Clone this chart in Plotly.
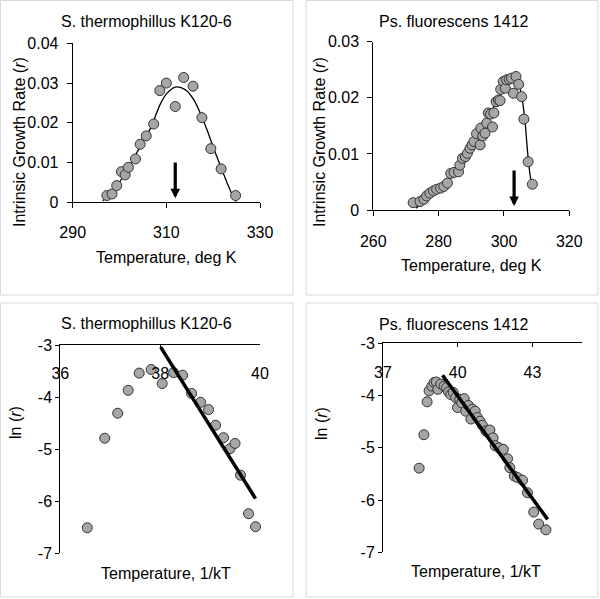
import plotly.graph_objects as go

# ---------------- data ----------------
# Panel A: S. thermophillus K120-6, r vs T
st_temp = [297.3, 298.4, 299.4, 300.4, 301.2, 301.9, 303.4, 304.4, 305.7, 307.3,
           308.6, 310.0, 311.9, 313.7, 315.7, 317.6, 319.5, 321.7, 324.8]
st_rate = [0.0017, 0.0021, 0.0042, 0.0077, 0.0069, 0.0088, 0.0109, 0.0146, 0.0167, 0.0197,
           0.0281, 0.0300, 0.0241, 0.0314, 0.0292, 0.0213, 0.0135, 0.0084, 0.0017]
st_fit_temp = [296.4, 298.4, 301.6, 304.4, 306.6, 308.7, 310.1, 311.9, 313.0, 314.4,
               315.9, 317.3, 318.7, 320.1, 321.6, 323.0, 324.1, 324.9]
st_fit_rate = [0.0004, 0.0023, 0.0081, 0.0140, 0.0186, 0.0247, 0.0274, 0.0290, 0.0289, 0.0280,
               0.0257, 0.0223, 0.0182, 0.0136, 0.0090, 0.0048, 0.0018, 0.0002]
st_arrow_temp = 311.9
st_arrow_from = 0.0104
st_arrow_to = 0.0010

# Panel B: Ps. fluorescens 1412, r vs T
pf_temp = [272.2, 274.3, 275.5, 276.3, 277.3, 278.4, 279.4, 280.6, 281.6, 282.7,
           283.7, 284.7, 286.1, 286.5, 287.3, 288.2, 288.8, 289.6, 290.2, 290.8,
           291.6, 292.7, 292.9, 293.5, 294.2, 294.7, 295.2, 295.9, 296.5, 296.9,
           297.6, 298.3, 298.8, 299.0, 299.8, 300.4, 300.8, 301.6, 302.3, 302.9,
           303.7, 304.5, 305.4, 306.1, 307.4, 308.7]
pf_rate = [0.0013, 0.0015, 0.0019, 0.0025, 0.0030, 0.0034, 0.0037, 0.0039, 0.0042, 0.0048,
           0.0065, 0.0067, 0.0068, 0.0080, 0.0092, 0.0095, 0.0101, 0.0110, 0.0116, 0.0122,
           0.0136, 0.0116, 0.0146, 0.0132, 0.0137, 0.0155, 0.0173, 0.0171, 0.0148, 0.0173,
           0.0193, 0.0196, 0.0195, 0.0215, 0.0229, 0.0217, 0.0232, 0.0233, 0.0235, 0.0208,
           0.0238, 0.0224, 0.0202, 0.0162, 0.0086, 0.0046]
pf_fit_temp = [273.1, 276.3, 280.4, 284.5, 288.6, 292.7, 296.7, 299.8, 301.8, 303.4,
               304.4, 305.2, 305.9, 306.5, 307.2, 308.0, 308.6]
pf_fit_rate = [0.0003, 0.0021, 0.0039, 0.0063, 0.0101, 0.0143, 0.0182, 0.0214, 0.0227, 0.0232,
               0.0226, 0.0210, 0.0185, 0.0155, 0.0105, 0.0062, 0.0042]
pf_arrow_temp = 303.1
pf_arrow_from = 0.0073
pf_arrow_to = 0.0007

# Panel C: S. thermophillus, ln(r) vs 1/kT
st_invkt = [36.54, 36.89, 37.15, 37.36, 37.58, 37.82, 38.04, 38.27, 38.45, 38.63,
            38.81, 38.97, 39.11, 39.27, 39.40, 39.50, 39.61, 39.77, 39.91]
st_lnr = [-6.51, -4.79, -4.31, -3.87, -3.54, -3.47, -3.74, -3.53, -3.58, -3.93,
          -4.10, -4.24, -4.54, -4.78, -4.99, -4.89, -5.50, -6.24, -6.49]
st_line_x = [38.01, 39.91]
st_line_y = [-3.04, -5.95]

# Panel D: Ps. fluorescens, ln(r) vs 1/kT
pf_invkt = [38.45, 38.64, 38.77, 38.85, 38.96, 39.05, 39.14, 39.20, 39.32, 39.45,
            39.55, 39.63, 39.72, 39.82, 39.92, 39.99, 40.08, 40.16, 40.26, 40.32,
            40.43, 40.53, 40.59, 40.70, 40.79, 40.89, 40.99, 41.13, 41.29, 41.42,
            41.50, 41.66, 41.83, 42.00, 42.09, 42.27, 42.40, 42.60, 42.80, 43.05,
            43.25, 43.54]
pf_lnr = [-5.39, -4.75, -4.12, -3.91, -3.82, -3.75, -3.74, -3.88, -3.78, -3.82,
          -3.85, -3.93, -3.98, -3.94, -4.04, -4.23, -4.07, -4.14, -4.06, -4.30,
          -4.19, -4.45, -4.26, -4.30, -4.42, -4.49, -4.57, -4.68, -4.66, -4.81,
          -4.96, -5.00, -5.03, -5.21, -5.38, -5.54, -5.57, -5.62, -5.86, -6.23,
          -6.46, -6.57]
pf_line_x = [39.39, 43.61]
pf_line_y = [-3.61, -6.37]

ln_tickvals = [-7, -6, -5, -4, -3]
ln_ticktext = ["-7", "-6", "-5", "-4", "-3"]

titles = ["S. thermophillus K120-6", "Ps. fluorescens 1412",
          "S. thermophillus K120-6", "Ps. fluorescens 1412"]
x_titles = ["Temperature, deg K", "Temperature, deg K",
            "Temperature, 1/kT", "Temperature, 1/kT"]
y_titles = ["Intrinsic Growth Rate (<i>r</i>)", "Intrinsic Growth Rate (<i>r</i>)",
            "ln (<i>r</i>)", "ln (<i>r</i>)"]

# ---------------- style ----------------
W, H = 600, 599
FONT = "Liberation Sans, Arial, sans-serif"
MARK = dict(size=10, color="#a6a6a6", line=dict(color="#333333", width=1))


def px_x(p):
    return p / W


def px_y(p):
    return 1 - p / H


fig = go.Figure()

fig.add_trace(go.Scatter(x=st_fit_temp, y=st_fit_rate, mode="lines", line=dict(color="black", width=1.3, shape="spline", smoothing=0.8), xaxis="x", yaxis="y", hoverinfo="skip"))
fig.add_trace(go.Scatter(x=st_temp, y=st_rate, mode="markers", marker=MARK, xaxis="x", yaxis="y"))

fig.add_trace(go.Scatter(x=pf_fit_temp, y=pf_fit_rate, mode="lines", line=dict(color="black", width=1.3, shape="spline", smoothing=0.8), xaxis="x2", yaxis="y2", hoverinfo="skip"))
fig.add_trace(go.Scatter(x=pf_temp, y=pf_rate, mode="markers", marker=MARK, xaxis="x2", yaxis="y2"))

fig.add_trace(go.Scatter(x=st_invkt, y=st_lnr, mode="markers", marker=MARK, xaxis="x3", yaxis="y3", cliponaxis=False))
fig.add_trace(go.Scatter(x=st_line_x, y=st_line_y, mode="lines", line=dict(color="black", width=3.5), xaxis="x5", yaxis="y3"))

fig.add_trace(go.Scatter(x=pf_invkt, y=pf_lnr, mode="markers", marker=MARK, xaxis="x4", yaxis="y4", cliponaxis=False))
fig.add_trace(go.Scatter(x=pf_line_x, y=pf_line_y, mode="lines", line=dict(color="black", width=3.5), xaxis="x6", yaxis="y4"))

axis_common = dict(showgrid=False, zeroline=False, showline=True, linecolor="black", linewidth=1,
                   ticks="outside", ticklen=5, tickcolor="black", tickwidth=1, automargin=False,
                   tickfont=dict(family=FONT, size=16, color="black"))

c_dom = [px_x(60.3), px_x(260)]
d_dom = [px_x(383), px_x(582.3)]

fig.update_layout(
    xaxis=dict(axis_common, domain=[px_x(72.7), px_x(260)], range=[290, 330], tick0=290, dtick=20, anchor="y", ticklabelstandoff=10),
    yaxis=dict(axis_common, domain=[px_y(202.3), px_y(43.3)], range=[0, 0.04], dtick=0.01, anchor="x", ticklabelstandoff=5),
    xaxis2=dict(axis_common, domain=[px_x(373.3), px_x(569.3)], range=[260, 320], dtick=20, anchor="y2", ticklabelstandoff=12),
    yaxis2=dict(axis_common, domain=[px_y(210), px_y(41.7)], range=[0, 0.03], dtick=0.01, anchor="x2", ticklabelstandoff=5),
    xaxis3=dict(axis_common, domain=c_dom, range=[36, 40], tick0=36, dtick=2, anchor="y3", side="top",
                ticks="inside", ticklen=4, showticklabels=False),
    xaxis5=dict(axis_common, domain=c_dom, range=[36, 40], tick0=36, dtick=2, overlaying="x3", anchor="free",
                position=px_y(362), side="bottom", showline=False, ticks="", ticklabelstandoff=0),
    yaxis3=dict(axis_common, domain=[px_y(553.3), px_y(345)], range=[-7, -3], tickvals=ln_tickvals, ticktext=ln_ticktext,
                anchor="x3", ticklen=4, ticklabelstandoff=0),
    xaxis4=dict(axis_common, domain=d_dom, range=[37, 45], tick0=37, dtick=3, anchor="y4", side="top",
                ticks="inside", ticklen=4, showticklabels=False),
    xaxis6=dict(axis_common, domain=d_dom, range=[37, 45], tick0=37, dtick=3, overlaying="x4", anchor="free",
                position=px_y(361), side="bottom", showline=False, ticks="", ticklabelstandoff=0),
    yaxis4=dict(axis_common, domain=[px_y(552.3), px_y(343.3)], range=[-7, -3], tickvals=ln_tickvals, ticktext=ln_ticktext,
                anchor="x4", ticklen=4, ticklabelstandoff=0),
)

annotations = []
for xa, ya, xv, y0, y1 in [("x", "y", st_arrow_temp, st_arrow_from, st_arrow_to),
                           ("x2", "y2", pf_arrow_temp, pf_arrow_from, pf_arrow_to)]:
    annotations.append(dict(x=xv, y=y1, ax=xv, ay=y0, xref=xa, yref=ya, axref=xa, ayref=ya,
                            showarrow=True, arrowhead=2, arrowsize=0.6, arrowwidth=3.2, arrowcolor="black", text=""))

title_pos = [(146.7, 21.7), (454, 21.7), (146.7, 323.3), (454, 324.3)]
xtitle_pos = [(166.5, 257.5), (471.7, 265.5), (165.8, 573.3), (475.8, 571.7)]
ytitle_pos = [(19.3, 141.7), (319.3, 141.7), (15, 423), (321.7, 423.3)]
for i in range(4):
    tx, ty = title_pos[i]
    annotations.append(dict(x=px_x(tx), y=px_y(ty), xref="paper", yref="paper", text=titles[i], showarrow=False,
                            xanchor="center", yanchor="middle", font=dict(family=FONT, size=16, color="black")))
    tx, ty = xtitle_pos[i]
    annotations.append(dict(x=px_x(tx), y=px_y(ty), xref="paper", yref="paper", text=x_titles[i], showarrow=False,
                            xanchor="center", yanchor="middle", font=dict(family=FONT, size=16, color="black")))
    tx, ty = ytitle_pos[i]
    annotations.append(dict(x=px_x(tx), y=px_y(ty), xref="paper", yref="paper", text=y_titles[i], showarrow=False,
                            textangle=-90, xanchor="center", yanchor="middle", font=dict(family=FONT, size=16, color="black")))

shapes = []
for (x0, y0, x1, y1) in [(0.5, 0.5, 293, 295), (306, 0.5, 598, 295), (0.5, 303, 293, 597), (306, 303, 598, 597)]:
    shapes.append(dict(type="rect", xref="paper", yref="paper", x0=px_x(x0), x1=px_x(x1), y0=px_y(y1), y1=px_y(y0),
                       line=dict(color="#d9d9d9", width=1), fillcolor="rgba(0,0,0,0)", layer="below"))

fig.update_layout(
    width=W, height=H, margin=dict(l=0, r=0, t=0, b=0, autoexpand=False),
    paper_bgcolor="white", plot_bgcolor="white", showlegend=False,
    annotations=annotations, shapes=shapes,
    font=dict(family=FONT, size=16, color="black"),
)

fig.write_html("out.html", config={"displayModeBar": False},
               post_script="document.body.style.margin='0';document.body.style.padding='0';")
